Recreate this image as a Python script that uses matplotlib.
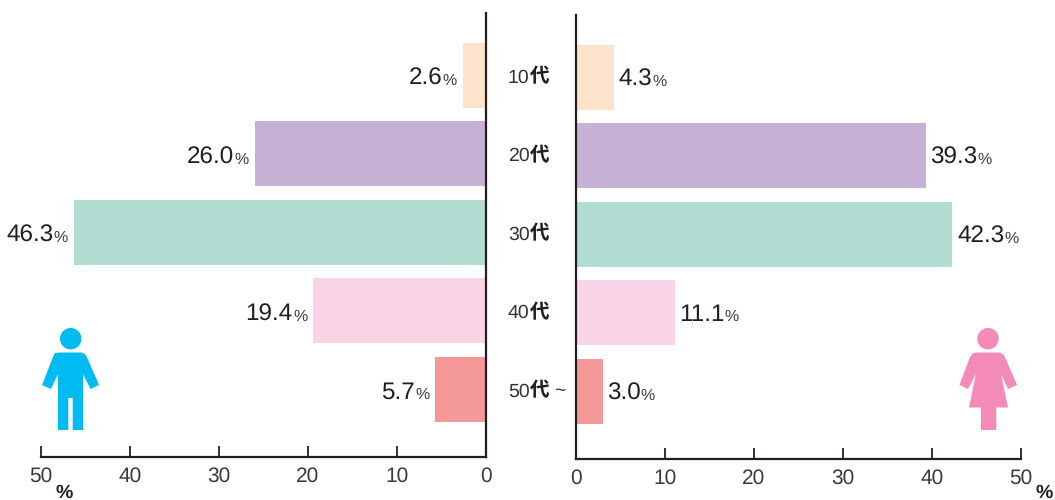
import matplotlib
matplotlib.use('Agg')
import matplotlib.pyplot as plt
from matplotlib.patches import Polygon, Circle
from matplotlib.transforms import Affine2D

plt.rcParams['font.family'] = ['Liberation Sans', 'Noto Sans CJK JP', 'DejaVu Sans']
plt.rcParams['text.hinting'] = 'no_hinting'

ages = ['10', '20', '30', '40', '50']
men = [2.6, 26.0, 46.3, 19.4, 5.7]
women = [4.3, 39.3, 42.3, 11.1, 3.0]
colors = ['#fde3cc', '#c6b1d5', '#b2ddd2', '#f9d4e7', '#f59898']
ticks = [0, 10, 20, 30, 40, 50]

TEXT = '#231f20'
W, H = 1055, 500


def make_axes(fig, x0, x1, top, bottom):
    ax = fig.add_axes([x0 / W, 1 - bottom / H, (x1 - x0) / W, (bottom - top) / H])
    ax.set_ylim(4.86, -0.796)
    ax.set_yticks([])
    ax.set_xticks(ticks)
    ax.tick_params(axis='x', direction='in', length=8, width=1.3, color=TEXT,
                   labelsize=15, labelcolor='#3a3a3a', pad=7)
    for name in ['top', 'left', 'right', 'bottom']:
        ax.spines[name].set_visible(False)
        ax.spines[name].set_linewidth(1.6)
        ax.spines[name].set_color(TEXT)
    ax.spines['bottom'].set_visible(True)
    ax.patch.set_alpha(0)
    return ax


def value_label(ax, y, val, side):
    # number and small % share a baseline, x is chained from one to the other
    if side == 'left':
        pct = ax.annotate('%', (val, y), xytext=(-6, -9.5), textcoords='offset pixels',
                          ha='right', va='baseline', fontsize=11.5, color='#3a3a3a')
        ax.annotate(f'{val:.1f}', (0, y), xycoords=(pct, 'data'), xytext=(-0.5, -9.5),
                    textcoords='offset pixels', ha='right', va='baseline',
                    fontsize=17.5, color=TEXT)
    else:
        num = ax.annotate(f'{val:.1f}', (val, y), xytext=(4.5, -8), textcoords='offset pixels',
                          ha='left', va='baseline', fontsize=17.5, color=TEXT)
        ax.annotate('%', (1, y), xycoords=(num, 'data'), xytext=(0, -8),
                    textcoords='offset pixels', ha='left', va='baseline',
                    fontsize=11.5, color='#3a3a3a')


fig = plt.figure(figsize=(W / 100, H / 100), dpi=100)

# men, reversed x axis
ax_l = make_axes(fig, 41, 486, 13, 457)
ax_l.barh(range(5), men, height=0.828, color=colors)
ax_l.set_xlim(50, 0)
ax_l.spines['right'].set_visible(True)
ax_l.spines['left'].set_visible(False)

# women
ax_r = make_axes(fig, 576, 1021, 15, 459)
ax_r.barh(range(5), women, height=0.828, color=colors)
ax_r.set_xlim(0, 50)
ax_r.spines['left'].set_visible(True)

for i in range(5):
    value_label(ax_l, i, men[i], 'left')
    value_label(ax_r, i, women[i], 'right')

# age labels between the panels, digits regular and 代 bold
trans = ax_r.get_yaxis_transform()
for i, age in enumerate(ages):
    t = ax_r.annotate(age, (-0.153, i), xycoords=trans, ha='left', va='center',
                      fontsize=14, color='#333333', annotation_clip=False)
    d = ax_r.annotate('代', (1, 0), xycoords=t, xytext=(0, 0), textcoords='offset pixels',
                      ha='left', va='bottom', fontsize=14,
                      fontweight='bold', color=TEXT, annotation_clip=False)
    if i == 4:
        ax_r.annotate('~', (1, 0), xycoords=d, xytext=(5, 0), textcoords='offset pixels',
                      ha='left', va='bottom', fontsize=14, color='#333333',
                      annotation_clip=False)

fig.text(56 / W, 1 - 498 / H, '%', fontsize=14, fontweight='bold', color=TEXT, va='baseline')
fig.text(1036 / W, 1 - 498 / H, '%', fontsize=14, fontweight='bold', color=TEXT, va='baseline')

# pictograms, outlines read in image pixels
px = Affine2D().scale(1, -1).translate(0, H)
man = [(55, 353), (59, 352.5), (82, 352.5), (86, 355), (99, 385), (90.5, 389), (83, 374),
       (83, 430), (72.7, 430), (72.7, 398), (68.3, 398), (68.3, 430), (58, 430), (58, 374),
       (51, 389), (42, 385), (53, 357)]
woman = [(973, 353), (977, 352.5), (1000, 352.5), (1004, 355), (1017, 385), (1008, 389), (1001, 374),
         (1008, 407.5), (996.3, 407.5), (996.3, 430), (981, 430), (981, 407.5), (969, 407.5), (976, 374),
         (968, 389), (959.5, 385), (970, 357)]
fig.add_artist(Polygon(man, closed=True, color='#00bbf2', lw=0, transform=px))
fig.add_artist(Circle((70.7, 338.7), 10.7, color='#00bbf2', lw=0, transform=px))
fig.add_artist(Polygon(woman, closed=True, color='#f48ab7', lw=0, transform=px))
fig.add_artist(Circle((988, 338.7), 10.7, color='#f48ab7', lw=0, transform=px))

fig.savefig('out.png', dpi=100)
